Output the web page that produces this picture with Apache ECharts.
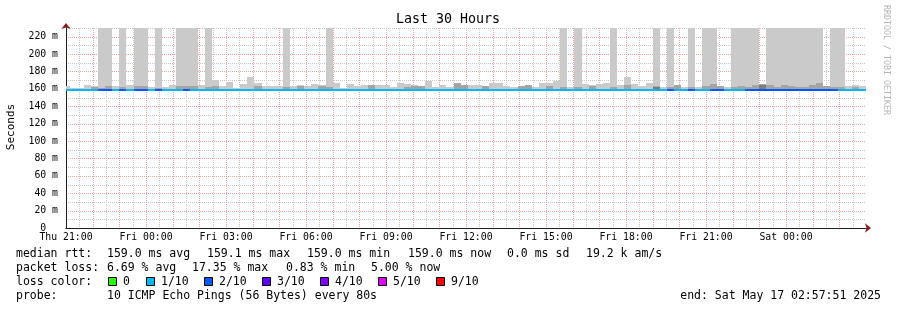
<!DOCTYPE html>
<html><head><meta charset="utf-8">
<script src="https://cdn.jsdelivr.net/npm/echarts@6/dist/echarts.min.js"></script>
<style>html,body{margin:0;padding:0;background:#fff}#c{width:897px;height:310px}</style>
</head><body><div id="c"></div>
<script>
// ---- data ----
const T0 = 20.867;          // start of first 16-minute bucket, hours after Thu 00:00
const STEP = 16 / 60;       // bucket length in hours
const OFF = 260;            // smoke that runs above the top of the graph
const smokeLow = 158;       // fastest ping (hidden under the median band)

const smokeMax = [
163,160.5,160.5,164.3,163.6,OFF,OFF,163.5,OFF,164.3,
OFF,OFF,161.7,OFF,161.7,164.3,OFF,OFF,OFF,165,
OFF,170.4,163,167.8,161.2,165.5,173.6,166.5,163,163,
163,OFF,163.8,165,163.1,165.8,164,OFF,166.6,161.2,
165.3,162.8,164.3,164.3,164.3,164.3,162.2,166.5,165.5,164.3,
163.1,169,162,164.3,162,167,164.3,164.3,164.3,163.1,
166.6,166.6,163.1,162,163.1,164.3,161.8,166.6,166.6,168.9,
OFF,162,OFF,165.3,164.3,165.3,167,OFF,165,173.7,
165.8,163.1,166.4,OFF,162,OFF,164.3,162,OFF,162,
OFF,OFF,163.1,162,OFF,OFF,OFF,OFF,165.3,OFF,
OFF,OFF,OFF,OFF,OFF,OFF,OFF,163.1,OFF,OFF,
163.1,164.3,163.1,163.1
];
const smokeMid = [
null,null,null,null,162.5,161.5,163,null,162.5,null,
163,163,null,161.5,null,null,163,163,163,null,
162,163,null,null,null,null,null,163.1,null,null,
null,162,null,163,null,null,163,162.5,null,null,
null,null,null,164.3,null,null,null,null,162,163,
163.1,null,null,null,null,167,164.3,null,null,163.1,
null,null,null,null,163.1,164.3,null,null,163,null,
162,null,162,null,163,null,null,162.5,null,164,
null,null,null,163,null,162,164.3,null,162,null,
163,165.8,163.1,null,162,163,162,164.3,165.3,164.3,
162,165,163.1,162,162,164.3,166.6,163.1,162,162,
null,162.5,null,null
];
const smokeDark = [
null,null,null,null,null,null,null,null,null,null,
null,null,null,null,null,null,null,null,null,null,
null,null,null,null,null,null,null,null,null,null,
null,null,null,null,null,null,null,null,null,null,
null,null,null,null,null,null,null,null,null,null,
null,null,null,null,null,null,null,null,null,null,
null,null,null,null,null,null,null,null,null,null,
null,null,null,null,null,null,null,null,null,null,
null,null,null,162,null,null,null,null,null,null,
null,null,null,null,null,null,null,null,164.3,null,
null,null,null,null,null,null,null,null,null,null,
null,null,null,null
];
const median = [
159,159,159,159,159,159,159,159,159,159,
159,159,159,159,159,159,159,159,159,159,
159,159,159,159,159,159,159,159,159,159,
159,159,159,159,159,159,159,159,159,159,
159,159,159,159,159,159,159,159,159,159,
159,159,159,159,159,159,159,159,159,159,
159,159,159,159,159,159,159,159,159,159,
159,159,159,159,159,159,159,159,159,159,
159,159,159,159,159,159,159,159,159,159,
159,159,159,159,159,159,159,159,159,159,
159,159,159,159,159,159,159,159,159,159,
159,159,159,159
];
const lossTenths = [
1,1,1,1,1,2,2,1,2,1,
2,2,1,2,1,1,1,2,1,1,
1,1,1,1,1,1,1,1,1,1,
1,1,1,1,1,1,1,1,1,1,
1,1,1,1,1,1,1,1,1,1,
1,1,1,1,1,1,1,1,1,1,
1,1,1,1,1,1,1,1,1,1,
1,1,1,1,1,1,1,1,1,1,
1,1,1,1,1,2,1,1,2,1,
1,2,2,1,1,1,2,2,2,2,
2,2,2,2,2,2,2,2,2,1,
1,1,1,1
];
const lossLabels = ['0','1/10','2/10','3/10','4/10','5/10','9/10'];
const lossColors = ['#26ff00','#00b8ff','#0059ff','#5e00ff','#7e00ff','#dd00ff','#ff0000'];
const dayNames = ['Thu','Fri','Sat'];
// grid ticks: hours (major) and half hours (minor); 20 m (major) and 10 m (minor)
const xMajorTicks = [22,23,24,25,26,27,28,29,30,31,32,33,34,35,36,37,38,39,40,41,42,43,44,45,46,47,48,49,50];
const xMinorTicks = [21.5,22.5,23.5,24.5,25.5,26.5,27.5,28.5,29.5,30.5,31.5,32.5,33.5,34.5,35.5,36.5,37.5,38.5,39.5,40.5,41.5,42.5,43.5,44.5,45.5,46.5,47.5,48.5,49.5,50.5];
const yMajorTicks = [20,40,60,80,100,120,140,160,180,200,220];
const yMinorTicks = [10,30,50,70,90,110,130,150,170,190,210,230];
const statRows = [
  ['median rtt:', ['159.0 ms avg','159.1 ms max','159.0 ms min','159.0 ms now','0.0 ms sd','19.2 k am/s']],
  ['packet loss:', ['6.69 % avg','17.35 % max','0.83 % min','5.00 % now']],
];
const probeText = '10 ICMP Echo Pings (56 Bytes) every 80s';
const endText = 'end: Sat May 17 02:57:51 2025';

// ---- layout ----
const X_MIN = 21, X_MAX = 51, Y_MAX = 230;
const MONO = '"DejaVu Sans Mono", monospace';
const SMOKE1 = '#cacaca', SMOKE2 = '#a4a4a4', SMOKE3 = '#7e7e7e';
const GRID_MINOR = '#c6c6c6';
const GRID_MAJOR = '#f2a2a2';
const AXIS_COL = '#1f1f1f', ARROW_COL = '#7f1f1f';

function lossColorIndex(l) { return l <= 4 ? l : (l <= 8 ? 5 : 6); }

function rectSeries(lowFn, highArr, colorFn, z) {
  const data = [];
  for (let i = 0; i < highArr.length; i++) {
    const hi = highArr[i];
    if (hi == null) continue;
    const lo = lowFn(i);
    if (hi <= lo) continue;
    data.push([T0 + i * STEP, T0 + (i + 1) * STEP, lo, hi, i]);
  }
  return {
    type: 'custom', xAxisIndex: 0, yAxisIndex: 0, z: z, silent: true, clip: true,
    encode: { x: [0, 1], y: [2, 3] },
    data: data,
    renderItem: function (params, api) {
      const a = api.coord([Math.max(api.value(0), X_MIN), Math.max(api.value(2), 0)]);
      const b = api.coord([Math.min(api.value(1), X_MAX), Math.min(api.value(3), Y_MAX)]);
      const x0 = Math.round(a[0]), x1 = Math.round(b[0]);
      const y0 = Math.round(a[1]), y1 = Math.round(b[1]);
      return { type: 'rect', shape: { x: x0, y: y1, width: x1 - x0, height: y0 - y1 },
               style: { fill: colorFn(api.value(4)) } };
    }
  };
}

function gridSeries(vals, vertical, color) {
  return {
    type: 'custom', xAxisIndex: 0, yAxisIndex: 0, z: 1, silent: true, clip: false,
    data: vals.map(function (v) { return [v]; }),
    renderItem: function (params, api) {
      const cs = params.coordSys;
      const v = api.value(0);
      let shape;
      if (vertical) {
        const p = Math.round(api.coord([v, 0])[0]) + 0.5;
        shape = { x1: p, y1: cs.y, x2: p, y2: cs.y + cs.height };
      } else {
        const p = Math.round(api.coord([X_MIN, v])[1]) + 0.5;
        shape = { x1: cs.x, y1: p, x2: cs.x + cs.width, y2: p };
      }
      return { type: 'line', shape: shape, style: { stroke: color, lineWidth: 1, lineDash: [1, 1] } };
    }
  };
}

const medianHi = median.map(function (m) { return m + 1.15; });

const series = [
  gridSeries(xMinorTicks, true, GRID_MINOR),
  gridSeries(yMinorTicks, false, GRID_MINOR),
  gridSeries(xMajorTicks, true, GRID_MAJOR),
  gridSeries(yMajorTicks, false, GRID_MAJOR),
  rectSeries(function () { return smokeLow; }, smokeMax, function () { return SMOKE1; }, 2),
  rectSeries(function () { return smokeLow; }, smokeMid, function () { return SMOKE2; }, 3),
  rectSeries(function () { return smokeLow; }, smokeDark, function () { return SMOKE3; }, 4),
  rectSeries(function (i) { return median[i] - 1.15; }, medianHi,
             function (i) { return lossColors[lossColorIndex(lossTenths[i])]; }, 5)
];

function xLabel(v) {
  if (v >= X_MAX - 0.01) return '';
  const d = Math.floor(v / 24), h = Math.round(v - d * 24);
  return dayNames[d] + ' ' + (h < 10 ? '0' : '') + h + ':00';
}
function yLabel(v) {
  if (v > 225) return '';
  if (v === 0) return '0  ';
  return v + ' m';
}

const option = {
  animation: false,
  backgroundColor: '#ffffff',
  grid: { left: 66, right: 31, top: 28, bottom: 82, containLabel: false },
  xAxis: [
    { type: 'value', min: X_MIN, max: X_MAX, interval: 3, position: 'bottom', z: 1,
      axisLine: { show: true, onZero: false, lineStyle: { color: AXIS_COL, width: 1 } },
      axisTick: { show: false }, splitLine: { show: false },
      axisLabel: { formatter: xLabel, fontFamily: MONO, fontSize: 9.8, color: '#000', margin: 4, showMaxLabel: false } },
    { type: 'value', min: X_MIN, max: X_MAX, position: 'bottom', z: 0,
      axisLine: { show: true, onZero: false, symbol: ['none', 'arrow'], symbolSize: [7, 6], symbolOffset: [0, 5], lineStyle: { color: ARROW_COL, width: 1 } },
      axisTick: { show: false }, axisLabel: { show: false }, splitLine: { show: false } }
  ],
  yAxis: [
    { type: 'value', min: 0, max: Y_MAX, interval: 20, position: 'left', z: 1,
      axisLine: { show: true, onZero: false, lineStyle: { color: AXIS_COL, width: 1 } },
      axisTick: { show: false }, splitLine: { show: false },
      axisLabel: { formatter: yLabel, fontFamily: MONO, fontSize: 9.8, color: '#000', margin: 8, showMaxLabel: false } },
    { type: 'value', min: 0, max: Y_MAX, position: 'left', z: 0,
      axisLine: { show: true, onZero: false, symbol: ['none', 'arrow'], symbolSize: [7, 6], symbolOffset: [0, 5], lineStyle: { color: ARROW_COL, width: 1 } },
      axisTick: { show: false }, axisLabel: { show: false }, splitLine: { show: false } }
  ],
  series: series,
  graphic: []
};

// ---- texts (title, unit, watermark, legend) ----
const G = option.graphic;
function txt(text, x, y, size, extra) {
  const el = { type: 'text', x: x, y: y, silent: true,
    style: Object.assign({ text: text, font: size + 'px ' + MONO, fill: '#000', align: 'left', verticalAlign: 'middle' }, extra && extra.style) };
  if (extra && extra.rotation != null) el.rotation = extra.rotation;
  G.push(el);
}
txt('Last 30 Hours', 448, 20, 13.3, { style: { align: 'center' } });
txt('Seconds', 11, 127, 11, { rotation: Math.PI / 2, style: { align: 'center' } });
txt('RRDTOOL / TOBI OETIKER', 886, 60, 8.3, { rotation: -Math.PI / 2, style: { align: 'center', fill: '#b4b4b4' } });

const LEG = 11.5;
const statX = [[107, 207, 307, 408, 507, 586], [107, 192, 286, 371]];
statRows.forEach(function (row, r) {
  const y = 254 + r * 14;
  txt(row[0], 16, y, LEG);
  row[1].forEach(function (s, k) { txt(s, statX[r][k], y, LEG); });
});
txt('loss color:', 16, 282, LEG);
const boxX = [108, 146, 204, 262, 320, 378, 436];
lossLabels.forEach(function (lab, k) {
  G.push({ type: 'rect', silent: true, shape: { x: boxX[k] + 0.5, y: 277.5, width: 8, height: 8 },
           style: { fill: lossColors[k], stroke: '#000', lineWidth: 1 } });
  txt(lab, boxX[k] + 15, 282, LEG);
});
txt('probe:', 16, 296, LEG);
txt(probeText, 107, 296, LEG);
txt(endText, 881, 296, LEG, { style: { align: 'right' } });

const chart = echarts.init(document.getElementById('c'), null, { renderer: 'canvas' });
chart.setOption(option);
</script></body></html>
